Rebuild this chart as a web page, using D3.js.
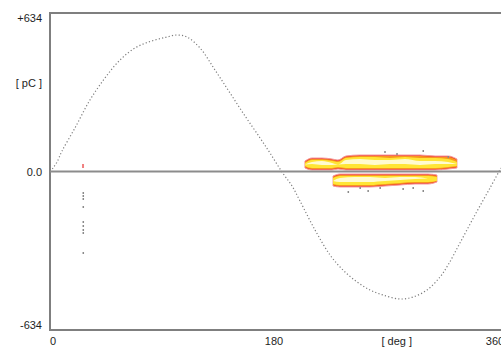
<!DOCTYPE html>
<html>
<head>
<meta charset="utf-8">
<script src="https://cdn.jsdelivr.net/npm/d3@7"></script>
<style>
  html, body { margin: 0; padding: 0; background: #fff; overflow: hidden; }
  text { font-family: "Liberation Sans", Arial, sans-serif; font-size: 11px; fill: #1e1e1e; }
</style>
</head>
<body>
<div id="chart"></div>
<script>
// phase axis [deg], charge axis [pC]
const phaseTicks = [0, 180, 360];
const chargeTicks = [634, 0, -634];
const chargeLabels = ['+634', '0.0', '-634'];

// reference voltage, sampled [deg, pC]
const sinePhase = [0, 2.3, 5.4, 9.2, 19.1, 30.6, 42.1, 53.6, 65.1, 76.6, 88.1, 97.3, 104.9, 114.9, 126.4, 137.9,
  149.4, 160.9, 168.5, 177.7, 185.4, 191.5, 203.0, 214.5, 224.4, 235.2, 245.1, 255.1, 268.1, 278.0,
  288.8, 298.7, 304.9, 314.0, 325.5, 337.0, 345.4];
const sineCharge = [0, 14, 38, 82, 174, 286, 374, 446, 494, 520, 536, 546, 538, 494, 406, 314,
  222, 134, 74, -2, -58, -118, -234, -334, -394, -442, -474, -494, -510, -502,
  -474, -422, -374, -286, -174, -66, 14];

// positive PD cluster: phase, then [lo, hi] charge per density level (red, orange, yellow, core)
const posPhase = [195.3, 200.7, 208.3, 216.0, 220.6, 226.7, 237.4, 248.9, 260.4, 271.9, 283.4, 294.9, 304.9, 311.7];
const posRed    = [[14, 42], [6, 54], [6, 54], [6, 50], [10, 46], [6, 62], [6, 66], [6, 66], [6, 66], [6, 66], [6, 66], [6, 62], [10, 62], [14, 50]];
const posOrange = [[18, 38], [10, 50], [10, 50], [10, 46], [14, 42], [10, 58], [10, 62], [10, 62], [10, 62], [10, 62], [10, 62], [10, 58], [14, 58], [18, 46]];
const posYellow = [[22, 34], [14, 46], [14, 46], [14, 42], [18, 38], [14, 54], [14, 58], [14, 58], [14, 54], [14, 58], [14, 54], [14, 54], [18, 50], [22, 38]];
const posCore   = [[28, 28], [30, 38], [26, 42], [26, 34], [28, 28], [30, 46], [30, 50], [26, 46], [30, 46], [30, 50], [26, 42], [30, 42], [30, 38], [30, 30]];

// negative PD cluster
const negPhase = [216.8, 222.1, 233.6, 245.1, 256.6, 268.1, 279.6, 289.5, 296.4];
const negRed    = [[-58, -18], [-62, -10], [-62, -10], [-62, -10], [-58, -10], [-54, -10], [-50, -10], [-50, -10], [-42, -14]];
const negOrange = [[-54, -22], [-58, -14], [-58, -14], [-58, -14], [-54, -14], [-50, -14], [-46, -14], [-46, -14], [-38, -18]];
const negYellow = [[-50, -26], [-54, -18], [-54, -18], [-54, -18], [-50, -18], [-46, -18], [-42, -18], [-42, -18], [-38, -22]];
const negCore   = [[-38, -38], [-42, -26], [-42, -22], [-42, -22], [-38, -26], [-34, -22], [-30, -22], [-28, -28], [-30, -30]];

// isolated pulses [deg, pC]
const strayPhase  = [25.3, 25.3, 25.3, 25.3, 25.3, 25.3, 25.3, 25.3, 25.3,
  285.7, 265.6, 304.9, 256.4, 228.3, 237.4, 252.7, 270.3, 278.0, 243.5, 285.7];
const strayCharge = [-86, -98, -110, -142, -202, -218, -234, -246, -326,
  82, 70, 58, 78, -82, -66, -66, -70, -66, -78, -78];
const redPhase = [25.3];
const redCharge = [22];

const W = 501, H = 347;
const plotLeft = 50, plotTop = 13, plotBottom = 330;

const xScale = d3.scaleLinear().domain([0, 360]).range([plotLeft, 520]);
const yScale = d3.scaleLinear().domain([-634, 634]).range([plotBottom, plotTop]);
// tick labels are spread over the visible part of the strip
const labelScale = d3.scaleLinear().domain([0, 360]).range([53, 495]);

const svg = d3.select('#chart').append('svg')
  .attr('width', W)
  .attr('height', H);

/* PD clusters */
function drawCluster(phase, levels) {
  const colors = ['#ee3a2f', '#f8961e', '#ffe535', '#fffbd0'];
  const g = svg.append('g').attr('class', 'cluster');
  levels.forEach((lvl, i) => {
    const area = d3.area()
      .curve(d3.curveMonotoneX)
      .x((d, j) => xScale(phase[j]))
      .y0((d, j) => yScale(lvl[j][0]))
      .y1((d, j) => yScale(lvl[j][1]));
    g.append('path')
      .attr('d', area(phase))
      .attr('fill', colors[i])
      .attr('stroke', i === 0 ? '#f59a9a' : 'none')
      .attr('stroke-width', i === 0 ? 1 : 0);
  });
}
drawCluster(posPhase, [posRed, posOrange, posYellow, posCore]);
drawCluster(negPhase, [negRed, negOrange, negYellow, negCore]);

/* stray pulses */
svg.append('g')
  .selectAll('rect')
  .data(strayPhase)
  .enter()
  .append('rect')
  .attr('x', (d, i) => xScale(d) - 0.5)
  .attr('y', (d, i) => yScale(strayCharge[i]) - 1)
  .attr('width', 1.5)
  .attr('height', 2)
  .attr('fill', '#8a8a8a');

svg.append('g')
  .selectAll('rect')
  .data(redPhase)
  .enter()
  .append('rect')
  .attr('x', d => xScale(d) - 1)
  .attr('y', (d, i) => yScale(redCharge[i]) - 2)
  .attr('width', 2)
  .attr('height', 4)
  .attr('fill', '#f08080');

/* reference sine */
const line = d3.line()
  .curve(d3.curveCatmullRom)
  .x(d => xScale(d))
  .y((d, i) => yScale(sineCharge[i]));

svg.append('path')
  .attr('d', line(sinePhase))
  .attr('fill', 'none')
  .attr('stroke', '#7d7d7d')
  .attr('stroke-width', 1.2)
  .attr('stroke-dasharray', '1.2 2.2');

/* frame */
const frame = svg.append('g').attr('stroke', '#7f7f7f').attr('stroke-width', 2);
frame.append('line').attr('x1', plotLeft).attr('x2', W).attr('y1', plotTop).attr('y2', plotTop);
frame.append('line').attr('x1', plotLeft).attr('x2', W).attr('y1', plotBottom).attr('y2', plotBottom);
frame.append('line').attr('x1', plotLeft).attr('x2', plotLeft).attr('y1', plotTop - 1).attr('y2', plotBottom + 1);
frame.append('line')
  .attr('x1', plotLeft).attr('x2', W)
  .attr('y1', yScale(0)).attr('y2', yScale(0))
  .attr('stroke', '#8c8c8c');

/* axis labels */
svg.append('g')
  .selectAll('text')
  .data(chargeTicks)
  .enter()
  .append('text')
  .attr('x', 42)
  .attr('y', d => yScale(d) + (d > 0 ? 9 : d < 0 ? -1 : 4))
  .attr('text-anchor', 'end')
  .text((d, i) => chargeLabels[i]);

svg.append('text')
  .attr('x', 42)
  .attr('y', 87)
  .attr('text-anchor', 'end')
  .text('[ pC ]');

svg.append('g')
  .selectAll('text')
  .data(phaseTicks)
  .enter()
  .append('text')
  .attr('x', d => labelScale(d))
  .attr('y', 345)
  .attr('text-anchor', 'middle')
  .text(d => d);

svg.append('text')
  .attr('x', labelScale(280))
  .attr('y', 345)
  .attr('text-anchor', 'middle')
  .text('[ deg ]');
</script>
</body>
</html>
